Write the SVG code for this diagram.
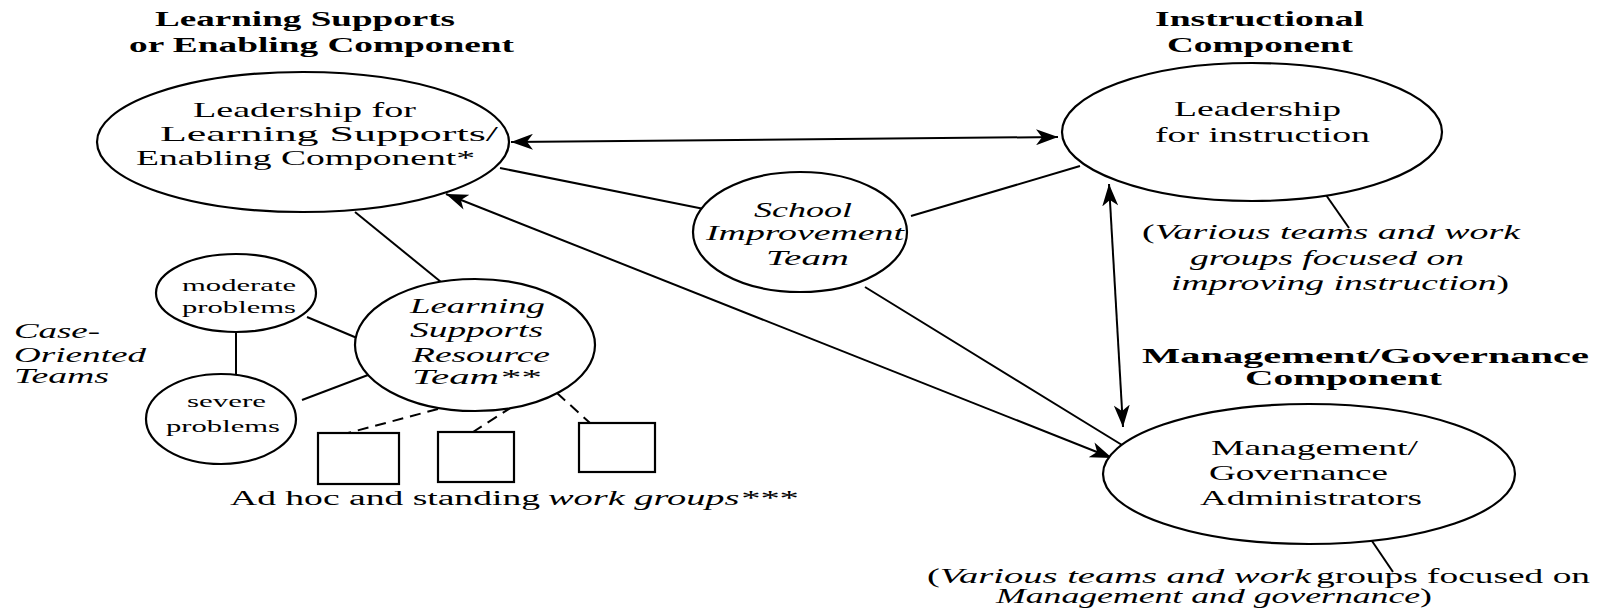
<svg xmlns="http://www.w3.org/2000/svg" width="1604" height="611" viewBox="0 0 1604 611">
<style>
  .node { fill: #fff; stroke: #000; stroke-width: 2.2; }
  .box { fill: #fff; stroke: #000; stroke-width: 2.2; }
  .t { font-family: "Liberation Serif", "Times New Roman", serif; fill: #000; }
  .title { font-size: 20px; font-weight: bold; }
  .big { font-size: 22px; }
  .mid { font-size: 21px; }
  .sm { font-size: 17px; }
  .ann { font-size: 20px; }
  .it { font-style: italic; }
  .ro { font-style: normal; }
  .conn line { stroke: #000; stroke-width: 2; fill: none; }
  .conn line.dash { stroke-dasharray: 11 7; }
</style>
<defs>
  <marker id="ah" markerUnits="userSpaceOnUse" markerWidth="24" markerHeight="16" refX="22" refY="8" orient="auto-start-reverse">
    <path d="M0,0 L22,8 L0,16 L6,8 Z" fill="#000"/>
  </marker>
</defs>
<rect width="1604" height="611" fill="#fff"/>

<g id="titles">
  <text class="t title" x="155" y="26" textLength="300" lengthAdjust="spacingAndGlyphs">Learning Supports</text>
  <text class="t title" x="129" y="52" textLength="385" lengthAdjust="spacingAndGlyphs">or Enabling Component</text>
  <text class="t title" x="1155" y="26" textLength="209" lengthAdjust="spacingAndGlyphs">Instructional</text>
  <text class="t title" x="1167" y="52" textLength="186" lengthAdjust="spacingAndGlyphs">Component</text>
  <text class="t title" x="1142" y="363" textLength="447" lengthAdjust="spacingAndGlyphs">Management/Governance</text>
  <text class="t title" x="1245" y="385" textLength="197" lengthAdjust="spacingAndGlyphs">Component</text>
</g>

<g class="conn" id="connectors">
  <line x1="511" y1="142" x2="1058" y2="137" marker-start="url(#ah)" marker-end="url(#ah)"/>
  <line x1="500" y1="168" x2="704" y2="209"/>
  <line x1="911" y1="216" x2="1080" y2="166"/>
  <line x1="355" y1="212" x2="441" y2="282"/>
  <line x1="446" y1="194" x2="1112" y2="458" marker-start="url(#ah)" marker-end="url(#ah)"/>
  <line x1="865" y1="287" x2="1122" y2="445"/>
  <line x1="1109" y1="184" x2="1123" y2="427" marker-start="url(#ah)" marker-end="url(#ah)"/>
  <line x1="1326" y1="195" x2="1349" y2="228"/>
  <line x1="1372" y1="541" x2="1393" y2="572"/>
  <line x1="307" y1="317" x2="357" y2="338"/>
  <line x1="302" y1="400" x2="368" y2="375"/>
  <line x1="236" y1="333" x2="236" y2="375"/>
  <line class="dash" x1="438" y1="409" x2="348" y2="433"/>
  <line class="dash" x1="512" y1="407" x2="473" y2="432"/>
  <line class="dash" x1="557" y1="393" x2="590" y2="423"/>
</g>

<g id="leadership-learning-supports">
  <ellipse class="node" cx="303" cy="142" rx="206" ry="70"/>
  <text class="t big" x="193" y="117" textLength="223" lengthAdjust="spacingAndGlyphs">Leadership for</text>
  <text class="t big" x="160" y="141" textLength="338" lengthAdjust="spacingAndGlyphs">Learning Supports/</text>
  <text class="t big" x="136" y="165" textLength="339" lengthAdjust="spacingAndGlyphs">Enabling Component*</text>
</g>

<g id="leadership-instruction">
  <ellipse class="node" cx="1252" cy="132" rx="190" ry="69"/>
  <text class="t big" x="1174" y="116" textLength="167" lengthAdjust="spacingAndGlyphs">Leadership</text>
  <text class="t big" x="1155" y="142" textLength="215" lengthAdjust="spacingAndGlyphs">for instruction</text>
</g>

<g id="school-improvement-team">
  <ellipse class="node" cx="800" cy="232" rx="107" ry="60"/>
  <text class="t big it" x="754" y="217" textLength="98" lengthAdjust="spacingAndGlyphs">School</text>
  <text class="t big it" x="706" y="240" textLength="198" lengthAdjust="spacingAndGlyphs">Improvement</text>
  <text class="t big it" x="766" y="265" textLength="83" lengthAdjust="spacingAndGlyphs">Team</text>
</g>

<g id="learning-supports-resource-team">
  <ellipse class="node" cx="475" cy="345" rx="120" ry="66"/>
  <text class="t mid it" x="410" y="313" textLength="135" lengthAdjust="spacingAndGlyphs">Learning</text>
  <text class="t mid it" x="410" y="337" textLength="133" lengthAdjust="spacingAndGlyphs">Supports</text>
  <text class="t mid it" x="412" y="362" textLength="138" lengthAdjust="spacingAndGlyphs">Resource</text>
  <text class="t mid it" x="412" y="384" textLength="128" lengthAdjust="spacingAndGlyphs">Team**</text>
</g>

<g id="moderate-problems">
  <ellipse class="node" cx="236" cy="293" rx="80" ry="39"/>
  <text class="t sm" x="182" y="291" textLength="114" lengthAdjust="spacingAndGlyphs">moderate</text>
  <text class="t sm" x="182" y="313" textLength="114" lengthAdjust="spacingAndGlyphs">problems</text>
</g>

<g id="severe-problems">
  <ellipse class="node" cx="221" cy="419" rx="75" ry="45"/>
  <text class="t sm" x="187" y="407" textLength="79" lengthAdjust="spacingAndGlyphs">severe</text>
  <text class="t sm" x="166" y="432" textLength="114" lengthAdjust="spacingAndGlyphs">problems</text>
</g>

<g id="case-oriented-teams">
  <text class="t ann it" x="14" y="338" textLength="86" lengthAdjust="spacingAndGlyphs">Case-</text>
  <text class="t ann it" x="14" y="362" textLength="132" lengthAdjust="spacingAndGlyphs">Oriented</text>
  <text class="t ann it" x="14" y="383" textLength="95" lengthAdjust="spacingAndGlyphs">Teams</text>
</g>

<g id="work-groups">
  <rect class="box" x="318" y="433" width="81" height="51"/>
  <rect class="box" x="438" y="432" width="76" height="50"/>
  <rect class="box" x="579" y="423" width="76" height="49"/>
  <text class="t ann" x="230" y="505" textLength="310" lengthAdjust="spacingAndGlyphs">Ad hoc and standing</text>
  <text class="t ann it" x="548" y="505" textLength="249" lengthAdjust="spacingAndGlyphs">work groups***</text>
</g>

<g id="instruction-teams-note">
  <text class="t ann" x="1142" y="239" textLength="378" lengthAdjust="spacingAndGlyphs"><tspan class="ro">(</tspan><tspan class="it">Various teams and work</tspan></text>
  <text class="t ann it" x="1190" y="265" textLength="274" lengthAdjust="spacingAndGlyphs">groups focused on</text>
  <text class="t ann" x="1171" y="290" textLength="338" lengthAdjust="spacingAndGlyphs"><tspan class="it">improving instruction</tspan><tspan class="ro">)</tspan></text>
</g>

<g id="management-governance-administrators">
  <ellipse class="node" cx="1309" cy="474" rx="206" ry="70"/>
  <text class="t mid" x="1211" y="455" textLength="207" lengthAdjust="spacingAndGlyphs">Management/</text>
  <text class="t mid" x="1209" y="480" textLength="179" lengthAdjust="spacingAndGlyphs">Governance</text>
  <text class="t mid" x="1200" y="505" textLength="222" lengthAdjust="spacingAndGlyphs">Administrators</text>
</g>

<g id="management-teams-note">
  <text class="t ann" x="927" y="583" textLength="384" lengthAdjust="spacingAndGlyphs"><tspan class="ro">(</tspan><tspan class="it">Various teams and work</tspan></text>
  <text class="t ann" x="1316" y="583" textLength="274" lengthAdjust="spacingAndGlyphs">groups focused on</text>
  <text class="t ann" x="996" y="603" textLength="436" lengthAdjust="spacingAndGlyphs"><tspan class="it">Management and governance</tspan><tspan class="ro">)</tspan></text>
</g>
</svg>
